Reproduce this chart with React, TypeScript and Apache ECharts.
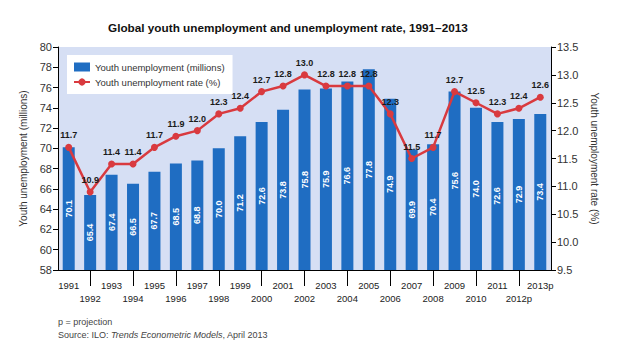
import React, { useEffect, useRef } from "react";
import * as echarts from "echarts";

const years = ["1991","1992","1993","1994","1995","1996","1997","1998","1999","2000","2001","2002","2003","2004","2005","2006","2007","2008","2009","2010","2011","2012p","2013p"];
const unemployment = [70.1,65.4,67.4,66.5,67.7,68.5,68.8,70.0,71.2,72.6,73.8,75.8,75.9,76.6,77.8,74.9,69.9,70.4,75.6,74.0,72.6,72.9,73.4];
const rate = [11.7,10.9,11.4,11.4,11.7,11.9,12.0,12.3,12.4,12.7,12.8,13.0,12.8,12.8,12.8,12.3,11.5,11.7,12.7,12.5,12.3,12.4,12.6];

const titleText = "Global youth unemployment and unemployment rate, 1991\u20132013";
const barName = "Youth unemployment (millions)";
const lineName = "Youth unemployment rate (%)";

export default function App() {
  const ref = useRef<HTMLDivElement>(null);
  useEffect(() => {
    if (!ref.current) return;
    const chart = echarts.init(ref.current, null, { renderer: "svg" });
    const font = "Liberation Sans, Arial, sans-serif";
    const narrow = "Liberation Sans Narrow, Liberation Sans, Arial, sans-serif";
    chart.setOption({
      animation: false,
      backgroundColor: "#ffffff",
      textStyle: { fontFamily: font },
      title: {
        text: titleText,
        left: 103,
        top: 16,
        textStyle: { fontSize: 11.75, fontWeight: "bold", color: "#111", fontFamily: font },
      },
      legend: {
        left: 67,
        top: 55,
        orient: "vertical",
        backgroundColor: "#ffffff",
        padding: [7, 8, 7, 6],
        itemGap: 5,
        itemWidth: 16,
        itemHeight: 9,
        textStyle: { fontSize: 9.5, color: "#333", fontFamily: font },
        data: [
          { name: barName, icon: "rect", itemStyle: { color: "#1f6dc2" } },
          { name: lineName },
        ],
      },
      grid: {
        left: 58,
        right: 71,
        top: 47,
        bottom: 86,
        show: true,
        backgroundColor: "#d6dff4",
        borderWidth: 0,
      },
      xAxis: {
        type: "category",
        data: years,
        boundaryGap: true,
        axisLine: { lineStyle: { color: "#000", width: 1 } },
        axisTick: {
          show: true,
          alignWithLabel: true,
          interval: (idx: number) => idx % 2 === 1,
          length: 16,
          lineStyle: { color: "#000" },
        },
        axisLabel: {
          interval: 0,
          margin: 9,
          fontSize: 9.5,
          lineHeight: 13,
          color: "#222",
          fontFamily: narrow,
          formatter: (v: string, i: number) => (i % 2 === 0 ? v : "\n" + v),
        },
      },
      yAxis: [
        {
          type: "value",
          min: 58,
          max: 80,
          interval: 2,
          name: barName,
          nameLocation: "middle",
          nameGap: 29,
          nameTextStyle: { fontSize: 10, color: "#333" },
          axisLine: { show: true, lineStyle: { color: "#000" } },
          axisTick: { show: true, length: 5, lineStyle: { color: "#000" } },
          axisLabel: { fontSize: 11, color: "#333", margin: 6 },
          splitLine: { show: false },
        },
        {
          type: "value",
          min: 9.5,
          max: 13.5,
          interval: 0.5,
          name: lineName,
          nameLocation: "middle",
          nameRotate: -90,
          nameGap: 34,
          nameTextStyle: { fontSize: 10, color: "#333" },
          axisLine: { show: true, lineStyle: { color: "#000" } },
          axisTick: { show: true, length: 5, lineStyle: { color: "#000" } },
          axisLabel: { fontSize: 11, color: "#333", margin: 6, formatter: (v: number) => v.toFixed(1) },
          splitLine: { show: false },
        },
      ],
      series: [
        {
          name: barName,
          type: "bar",
          data: unemployment,
          barWidth: "56%",
          itemStyle: { color: "#1f6dc2" },
          label: {
            show: true,
            position: "inside",
            rotate: 90,
            color: "#ffffff",
            fontSize: 9,
            fontWeight: "bold",
            fontFamily: narrow,
            formatter: (p: any) => Number(p.value).toFixed(1),
          },
        },
        {
          name: lineName,
          type: "line",
          yAxisIndex: 1,
          data: rate,
          symbol: "circle",
          symbolSize: 7,
          lineStyle: { color: "#d93a3f", width: 2.5 },
          itemStyle: { color: "#d93a3f" },
          label: {
            show: true,
            position: "top",
            distance: 4,
            color: "#1a1a1a",
            fontSize: 9,
            fontWeight: "bold",
            fontFamily: narrow,
            formatter: (p: any) => Number(p.value).toFixed(1),
          },
        },
      ],
      graphic: [
        {
          type: "text",
          left: 58,
          top: 317,
          style: { text: "p = projection", fontSize: 9, fill: "#444", fontFamily: font },
        },
        {
          type: "text",
          left: 58,
          top: 330,
          style: {
            text: "Source: ILO: {i|Trends Econometric Models}, April 2013",
            fontSize: 9,
            fill: "#444",
            fontFamily: font,
            rich: { i: { fontStyle: "italic", fontSize: 9, fill: "#444", fontFamily: font } },
          },
        },
      ],
    });
    return () => chart.dispose();
  }, []);
  return <div ref={ref} style={{ width: 622, height: 356, position: "absolute", left: 0, top: 0 }} />;
}
